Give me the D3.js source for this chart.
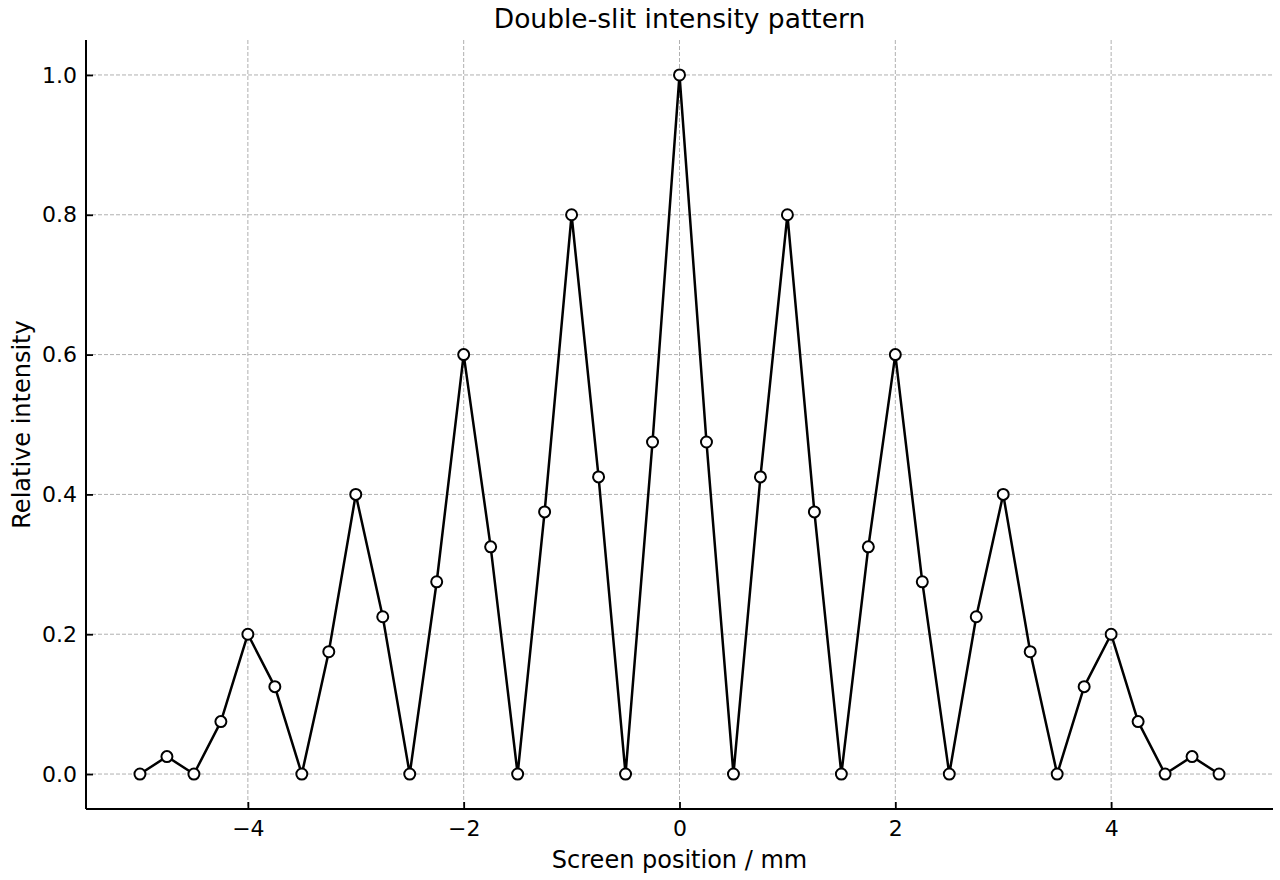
<!DOCTYPE html>
<html>
<head>
<meta charset="utf-8">
<script src="https://cdn.jsdelivr.net/npm/d3@7"></script>
<style>
  body { margin: 0; background: #fff; }
  svg { font-family: "DejaVu Sans", sans-serif; }
</style>
</head>
<body>
<svg id="chart" width="1280" height="880"></svg>
<script>
// screen positions (mm) and relative intensities
let positions = [-5, -4.75, -4.5, -4.25, -4, -3.75, -3.5, -3.25, -3, -2.75, -2.5, -2.25, -2, -1.75, -1.5, -1.25, -1, -0.75, -0.5, -0.25,
  0, 0.25, 0.5, 0.75, 1, 1.25, 1.5, 1.75, 2, 2.25, 2.5, 2.75, 3, 3.25, 3.5, 3.75, 4, 4.25, 4.5, 4.75, 5];
let intensity = [0, 0.025, 0, 0.075, 0.2, 0.125, 0, 0.175, 0.4, 0.225, 0, 0.275, 0.6, 0.325, 0, 0.375, 0.8, 0.425, 0, 0.475,
  1.0, 0.475, 0, 0.425, 0.8, 0.375, 0, 0.325, 0.6, 0.275, 0, 0.225, 0.4, 0.175, 0, 0.125, 0.2, 0.075, 0, 0.025, 0];
let xTicks = [-4, -2, 0, 2, 4];
let yTicks = [0, 0.2, 0.4, 0.6, 0.8, 1.0];

let width = 1280;
let height = 880;
let margin = { top: 40, right: 7, bottom: 71, left: 86 };

let svg = d3.select("#chart");

let data = positions.map((p, i) => ({ x: p, y: intensity[i] }));

let x = d3.scaleLinear()
  .domain([-5.5, 5.5])
  .range([margin.left, width - margin.right]);

let y = d3.scaleLinear()
  .domain([-0.05, 1.05])
  .range([height - margin.bottom, margin.top]);

// grid
svg.append("g")
  .selectAll("line")
  .data(xTicks)
  .join("line")
  .attr("x1", d => x(d)).attr("x2", d => x(d))
  .attr("y1", margin.top).attr("y2", height - margin.bottom)
  .style("stroke", "#b0b0b0").style("stroke-width", 1)
  .style("stroke-dasharray", "4,2");

svg.append("g")
  .selectAll("line")
  .data(yTicks)
  .join("line")
  .attr("x1", margin.left).attr("x2", width - margin.right)
  .attr("y1", d => y(d)).attr("y2", d => y(d))
  .style("stroke", "#b0b0b0").style("stroke-width", 1)
  .style("stroke-dasharray", "4,2");

// axes (ticks pointing in)
let xAxis = svg.append("g")
  .attr("transform", `translate(0,${height - margin.bottom})`)
  .call(d3.axisBottom(x).tickValues(xTicks).tickSize(-7).tickPadding(11)
    .tickFormat(d => d < 0 ? "\u2212" + Math.abs(d) : d));

let yAxis = svg.append("g")
  .attr("transform", `translate(${margin.left},0)`)
  .call(d3.axisLeft(y).tickValues(yTicks).tickSize(-7).tickPadding(9)
    .tickFormat(d3.format(".1f")));

[xAxis, yAxis].forEach(g => {
  g.select(".domain").style("stroke", "#000").style("stroke-width", 2);
  g.selectAll(".tick line").style("stroke", "#000").style("stroke-width", 1.8);
  g.selectAll("text")
    .style("font-family", "'DejaVu Sans', sans-serif")
    .style("font-size", "22px")
    .style("fill", "#000");
});
// keep domain flat, without the outer ticks
xAxis.select(".domain").attr("d", `M${margin.left},0H${width - margin.right}`);
yAxis.select(".domain").attr("d", `M0,${height - margin.bottom}V${margin.top}`);

// line and markers
let line = d3.line()
  .x(d => x(d.x))
  .y(d => y(d.y));

svg.append("path")
  .attr("d", line(data))
  .style("fill", "none")
  .style("stroke", "#000")
  .style("stroke-width", 2.5)
  .style("stroke-linejoin", "round");

svg.selectAll(".pt")
  .data(data)
  .join("circle")
  .attr("class", "pt")
  .attr("cx", d => x(d.x))
  .attr("cy", d => y(d.y))
  .attr("r", 5.5)
  .style("fill", "#fff")
  .style("stroke", "#000")
  .style("stroke-width", 2);

// labels
svg.append("text")
  .attr("x", (margin.left + width - margin.right) / 2)
  .attr("y", 28)
  .attr("text-anchor", "middle")
  .style("font-size", "26.5px")
  .text("Double-slit intensity pattern");

svg.append("text")
  .attr("x", (margin.left + width - margin.right) / 2)
  .attr("y", 868)
  .attr("text-anchor", "middle")
  .style("font-size", "24px")
  .text("Screen position / mm");

svg.append("text")
  .attr("transform", `translate(30,${(margin.top + height - margin.bottom) / 2}) rotate(-90)`)
  .attr("text-anchor", "middle")
  .style("font-size", "24px")
  .text("Relative intensity");
</script>
</body>
</html>
